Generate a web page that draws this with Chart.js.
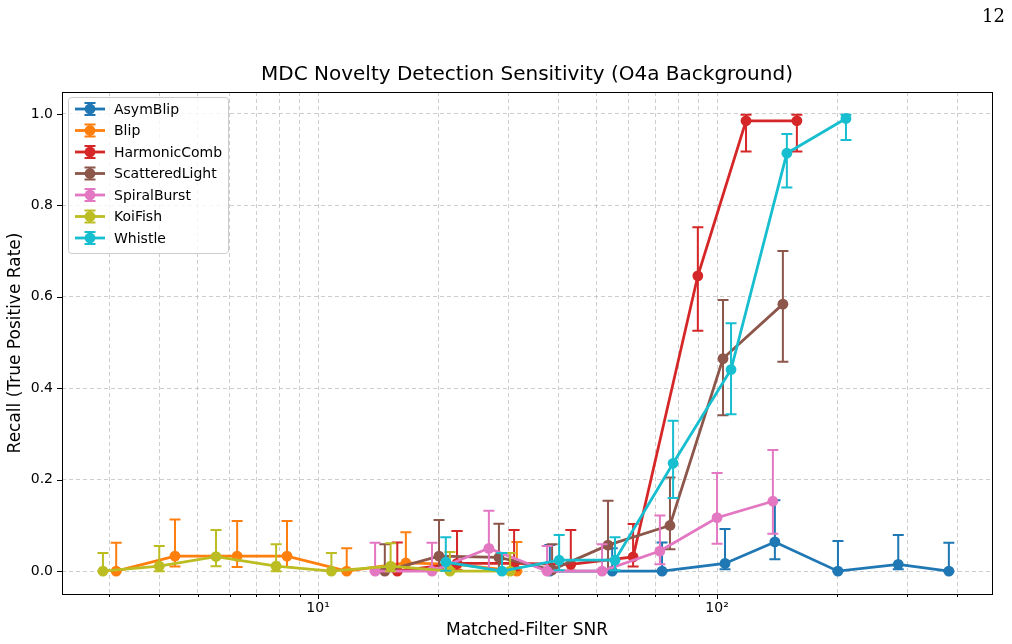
<!DOCTYPE html>
<html>
<head>
<meta charset="utf-8">
<script src="https://cdn.jsdelivr.net/npm/chart.js@4.4.0/dist/chart.umd.min.js"></script>
<style>
  html, body { margin: 0; padding: 0; background: #fff; }
  #wrap { position: relative; width: 1012px; height: 644px; }
  #page { position: absolute; right: 7px; top: 5px; font-family: 'DejaVu Serif', 'Liberation Serif', serif; font-size: 18px; color: #000; }
</style>
</head>
<body>
<div id="wrap">
  <canvas id="chart" width="1012" height="644"></canvas>
  <div id="page">12</div>
</div>
<script>
'use strict';

/* ── Data ─────────────────────────────────────────────────── */
const chartTitle = 'MDC Novelty Detection Sensitivity (O4a Background)';
const seriesNames = ['AsymBlip', 'Blip', 'HarmonicComb', 'ScatteredLight', 'SpiralBurst', 'KoiFish', 'Whistle'];
const seriesColors = ['#1f77b4', '#ff7f0e', '#d62728', '#8c564b', '#e377c2', '#bcbd22', '#17becf'];

const asymBlipSnr    = [38.1, 54.6, 72.8, 104.7, 139.6, 200.9, 284.5, 381];
const asymBlipRecall = [0, 0, 0, 0.017, 0.064, 0, 0.015, 0];
const asymBlipLo     = [0, 0, 0, 0.004, 0.026, 0, 0.004, 0];
const asymBlipHi     = [0.057, 0.050, 0.063, 0.092, 0.155, 0.066, 0.079, 0.062];

const blipSnr    = [3.12, 4.38, 6.27, 8.36, 11.8, 16.6, 22.3, 31.5];
const blipRecall = [0, 0.033, 0.033, 0.033, 0, 0.018, 0.015, 0];
const blipLo     = [0, 0.010, 0.009, 0.009, 0, 0.002, 0.001, 0];
const blipHi     = [0.062, 0.113, 0.110, 0.110, 0.050, 0.085, 0.088, 0.064];

const harmonicSnr    = [15.8, 22.3, 31.0, 43.0, 61.6, 89.5, 118.2, 158.5];
const harmonicRecall = [0, 0.017, 0.017, 0.015, 0.031, 0.646, 0.985, 0.985];
const harmonicLo     = [0, 0.002, 0.002, 0.001, 0.010, 0.526, 0.918, 0.918];
const harmonicHi     = [0.063, 0.088, 0.090, 0.090, 0.103, 0.752, 0.998, 0.998];

const scatteredSnr    = [14.7, 20.1, 28.4, 38.6, 53.3, 76.2, 103.5, 146.2];
const scatteredRecall = [0, 0.033, 0.030, 0.003, 0.057, 0.100, 0.465, 0.584];
const scatteredLo     = [0, 0.004, 0.003, 0, 0.005, 0.048, 0.341, 0.458];
const scatteredHi     = [0.059, 0.112, 0.104, 0.059, 0.154, 0.205, 0.593, 0.700];

const spiralSnr    = [13.9, 19.3, 26.8, 37.5, 51.5, 71.9, 100, 138];
const spiralRecall = [0, 0, 0.050, 0, 0, 0.044, 0.117, 0.153];
const spiralLo     = [0, 0, 0.003, 0, 0, 0.015, 0.060, 0.082];
const spiralHi     = [0.062, 0.062, 0.132, 0.055, 0.059, 0.122, 0.215, 0.265];

const koiSnr    = [2.89, 4.00, 5.55, 7.85, 10.8, 15.2, 21.4, 30.3];
const koiRecall = [0, 0.011, 0.032, 0.011, 0, 0.011, 0, 0];
const koiLo     = [0, 0, 0.011, 0, 0, 0, 0, 0];
const koiHi     = [0.040, 0.055, 0.090, 0.059, 0.040, 0.061, 0.042, 0.040];

const whistleSnr    = [20.9, 28.9, 40.2, 55.5, 77.6, 108.4, 149.6, 210.4];
const whistleRecall = [0.020, 0, 0.024, 0.024, 0.236, 0.441, 0.914, 0.990];
const whistleLo     = [0.001, 0, 0.002, 0.002, 0.160, 0.343, 0.839, 0.943];
const whistleHi     = [0.074, 0.040, 0.079, 0.074, 0.329, 0.542, 0.956, 0.998];

const xTickValues = [3, 4, 5, 6, 7, 8, 9, 10, 20, 30, 40, 50, 60, 70, 80, 90, 100, 200, 300, 400];
const xTickLabels = { 10: '10\u00B9', 100: '10\u00B2' };
const yTickValues = [0, 0.2, 0.4, 0.6, 0.8, 1.0];

const seriesTable = [
  [asymBlipSnr, asymBlipRecall, asymBlipLo, asymBlipHi],
  [blipSnr, blipRecall, blipLo, blipHi],
  [harmonicSnr, harmonicRecall, harmonicLo, harmonicHi],
  [scatteredSnr, scatteredRecall, scatteredLo, scatteredHi],
  [spiralSnr, spiralRecall, spiralLo, spiralHi],
  [koiSnr, koiRecall, koiLo, koiHi],
  [whistleSnr, whistleRecall, whistleLo, whistleHi],
];

const FONT = "'DejaVu Sans', 'Liberation Sans', sans-serif";
const GRID = 'rgba(190,190,190,0.75)';
const MARKER_R = 5.4;

/* ── Plugins ──────────────────────────────────────────────── */
const errorBarPlugin = {
  id: 'errorBars',
  beforeDatasetDraw(chart, args) {
    const ds = chart.data.datasets[args.index];
    if (!ds.errLo) return;
    const { ctx, chartArea: a } = chart;
    const xs = chart.scales.x, ys = chart.scales.y;
    ctx.save();
    ctx.beginPath();
    ctx.rect(a.left, a.top, a.right - a.left, a.bottom - a.top);
    ctx.clip();
    ctx.strokeStyle = ds.borderColor;
    ctx.lineWidth = 2;
    ds.data.forEach((p, i) => {
      const px = xs.getPixelForValue(p.x);
      const lo = ys.getPixelForValue(ds.errLo[i]);
      const hi = ys.getPixelForValue(ds.errHi[i]);
      ctx.beginPath();
      ctx.moveTo(px, lo); ctx.lineTo(px, hi);
      ctx.moveTo(px - 5.5, lo); ctx.lineTo(px + 5.5, lo);
      ctx.moveTo(px - 5.5, hi); ctx.lineTo(px + 5.5, hi);
      ctx.stroke();
    });
    ctx.restore();
  }
};

// title centred over the plot area (matplotlib style), frame and tick marks
const framePlugin = {
  id: 'frame',
  afterDraw(chart) {
    const { ctx, chartArea: a } = chart;
    const xs = chart.scales.x, ys = chart.scales.y;
    ctx.save();
    ctx.fillStyle = '#000';
    ctx.font = `20px ${FONT}`;
    ctx.textAlign = 'center';
    ctx.textBaseline = 'middle';
    ctx.fillText(chartTitle, (a.left + a.right) / 2, a.top - 17);

    ctx.strokeStyle = '#000';
    ctx.lineWidth = 1;
    ctx.strokeRect(Math.round(a.left) + 0.5, Math.round(a.top) + 0.5,
      Math.round(a.right - a.left), Math.round(a.bottom - a.top));
    ctx.beginPath();
    xs.ticks.forEach(t => {
      const px = Math.round(xs.getPixelForValue(t.value)) + 0.5;
      const len = xTickLabels[t.value] ? 5 : 3;
      ctx.moveTo(px, a.bottom);
      ctx.lineTo(px, a.bottom + len);
    });
    ys.ticks.forEach(t => {
      const py = Math.round(ys.getPixelForValue(t.value)) + 0.5;
      ctx.moveTo(a.left, py);
      ctx.lineTo(a.left - 5, py);
    });
    ctx.stroke();
    ctx.restore();
  }
};

const legendPlugin = {
  id: 'boxLegend',
  afterDraw(chart) {
    const { ctx, chartArea: a } = chart;
    const x0 = a.left + 6, y0 = a.top + 5, w = 160, h = 156, row = 21.5;
    ctx.save();
    ctx.fillStyle = 'rgba(255,255,255,0.8)';
    ctx.strokeStyle = '#cccccc';
    ctx.lineWidth = 1;
    ctx.beginPath();
    ctx.roundRect(x0 + 0.5, y0 + 0.5, w, h, 3);
    ctx.fill();
    ctx.stroke();
    ctx.font = `14px ${FONT}`;
    ctx.textBaseline = 'middle';
    seriesNames.forEach((name, i) => {
      const cy = y0 + 12 + i * row;
      const c = seriesColors[i];
      ctx.strokeStyle = c;
      ctx.lineWidth = 2.8;
      ctx.beginPath();
      ctx.moveTo(x0 + 7, cy); ctx.lineTo(x0 + 37, cy);
      ctx.stroke();
      ctx.lineWidth = 2;
      ctx.beginPath();
      ctx.moveTo(x0 + 22, cy - 6); ctx.lineTo(x0 + 22, cy + 6);
      ctx.moveTo(x0 + 16.5, cy - 6); ctx.lineTo(x0 + 27.5, cy - 6);
      ctx.moveTo(x0 + 16.5, cy + 6); ctx.lineTo(x0 + 27.5, cy + 6);
      ctx.stroke();
      ctx.fillStyle = c;
      ctx.beginPath();
      ctx.arc(x0 + 22, cy, MARKER_R, 0, Math.PI * 2);
      ctx.fill();
      ctx.fillStyle = '#000';
      ctx.fillText(name, x0 + 46, cy + 1);
    });
    ctx.restore();
  }
};

/* ── Chart ────────────────────────────────────────────────── */
const datasets = seriesTable.map(([snr, recall, lo, hi], i) => ({
  label: seriesNames[i],
  data: snr.map((x, k) => ({ x, y: recall[k] })),
  errLo: lo,
  errHi: hi,
  borderColor: seriesColors[i],
  backgroundColor: seriesColors[i],
  borderWidth: 2.8,
  pointRadius: MARKER_R,
  pointBorderWidth: 0,
  pointHoverRadius: MARKER_R,
  tension: 0,
  order: seriesNames.length - 1 - i,
}));

new Chart(document.getElementById('chart'), {
  type: 'line',
  data: { datasets },
  options: {
    responsive: false,
    animation: false,
    layout: { padding: { left: 0, right: 20, top: 92, bottom: 0 } },
    plugins: {
      legend: { display: false },
      tooltip: { enabled: false },
      title: { display: false },
    },
    scales: {
      x: {
        type: 'logarithmic',
        min: 2.282,
        max: 488.7,
        afterBuildTicks: s => { s.ticks = xTickValues.map(v => ({ value: v, major: !!xTickLabels[v] })); },
        afterFit: s => { s.height = 50; },
        ticks: {
          autoSkip: false, maxRotation: 0, padding: 6, color: '#000',
          font: { family: FONT, size: 14 },
          callback: v => xTickLabels[v] || '',
        },
        grid: { color: GRID, lineWidth: 1, drawTicks: false },
        border: { display: false, dash: [4, 3] },
        title: {
          display: true, text: 'Matched-Filter SNR', color: '#000',
          font: { family: FONT, size: 17 }, padding: { top: 0, bottom: 3 },
        },
      },
      y: {
        min: -0.0499,
        max: 1.048,
        afterBuildTicks: s => { s.ticks = yTickValues.map(v => ({ value: v })); },
        afterFit: s => { s.width = 62; },
        ticks: {
          padding: 9, color: '#000',
          font: { family: FONT, size: 14 },
          callback: v => v.toFixed(1),
        },
        grid: { color: GRID, lineWidth: 1, drawTicks: false },
        border: { display: false, dash: [4, 3] },
        title: {
          display: true, text: 'Recall (True Positive Rate)', color: '#000',
          font: { family: FONT, size: 17 }, padding: { top: 5, bottom: 0 },
        },
      },
    },
  },
  plugins: [errorBarPlugin, framePlugin, legendPlugin],
});
</script>
</body>
</html>
